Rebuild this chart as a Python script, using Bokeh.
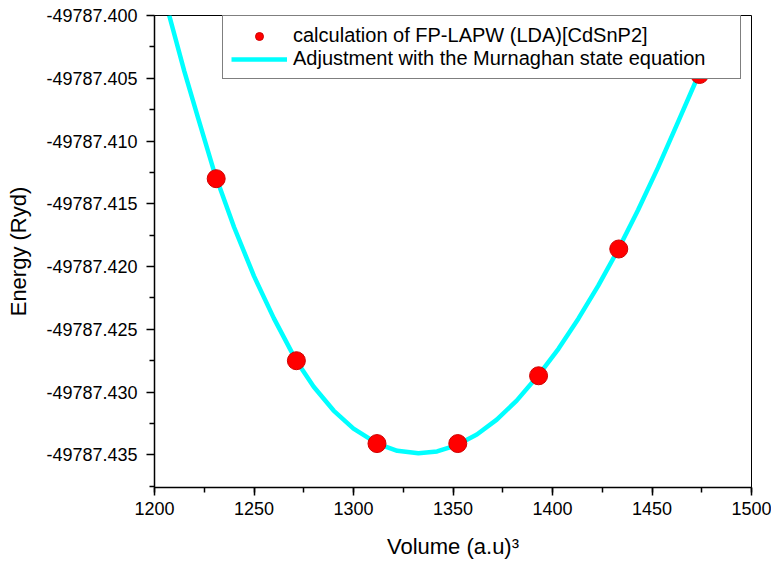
from bokeh.plotting import figure
from bokeh.models import (Range1d, FixedTicker, SingleIntervalTicker, PrintfTickFormatter,
                          Legend, LegendItem)
from bokeh.embed import file_html
from bokeh.resources import INLINE

# ---- data ----
VOLUME = [1231.0, 1271.3, 1311.8, 1352.4, 1393.0, 1433.3, 1473.9]
ENERGY = [-49787.4130, -49787.4275, -49787.4341, -49787.4341, -49787.4287,
          -49787.4186, -49787.4047]

# fitted (Murnaghan) curve
FIT_V = [1207.4, 1215.0, 1222.0, 1230.0, 1240.0, 1250.0, 1260.0, 1271.2, 1280.0,
         1290.0, 1300.0, 1312.0, 1322.0, 1332.6, 1342.0, 1352.0, 1362.0, 1372.0,
         1382.0, 1392.9, 1403.0, 1413.0, 1423.0, 1433.2, 1443.0, 1453.0, 1463.0,
         1473.5, 1485.3]
FIT_E = [-49787.40000, -49787.40445, -49787.40821, -49787.41246, -49787.41687,
         -49787.42076, -49787.42413, -49787.42749, -49787.42957, -49787.43147,
         -49787.43291, -49787.43411, -49787.43468, -49787.43488, -49787.43473,
         -49787.43422, -49787.43338, -49787.43219, -49787.43068, -49787.42866,
         -49787.42655, -49787.42415, -49787.42152, -49787.41859, -49787.41550,
         -49787.41212, -49787.40852, -49787.40470, -49787.40000]

Y_TICKS = [-49787.435, -49787.430, -49787.425, -49787.420, -49787.415,
           -49787.410, -49787.405, -49787.400]
Y_MINOR = [-49787.4375, -49787.4325, -49787.4275, -49787.4225, -49787.4175,
           -49787.4125, -49787.4075, -49787.4025]

SERIES_POINTS = "calculation of FP-LAPW (LDA)[CdSnP2]"
SERIES_FIT = "Adjustment with the Murnaghan state equation"

FONT = "Liberation Sans"

p = figure(width=771, height=569, output_backend="svg", toolbar_location=None,
           x_range=Range1d(1200, 1500), y_range=Range1d(-49787.4376, -49787.400),
           min_border_left=154, min_border_right=20, min_border_top=15,
           min_border_bottom=82, background_fill_color="white",
           border_fill_color="white")

p.xgrid.visible = False
p.ygrid.visible = False
p.outline_line_color = "black"
p.outline_line_width = 1

fit = p.line(FIT_V, FIT_E, line_color="#00FFFF", line_width=4.5, line_join="round")
pts = p.scatter(VOLUME, ENERGY, size=18, fill_color="#FF0000", line_color="#D00000",
                line_width=1)

# axes
p.xaxis.ticker = SingleIntervalTicker(interval=50, num_minor_ticks=2)
p.yaxis.ticker = FixedTicker(ticks=Y_TICKS, minor_ticks=Y_MINOR)
p.yaxis.formatter = PrintfTickFormatter(format="%.3f")

for ax in (p.xaxis[0], p.yaxis[0]):
    ax.axis_line_color = "black"
    ax.axis_line_width = 1.5
    ax.major_tick_line_color = "black"
    ax.major_tick_line_width = 1.5
    ax.minor_tick_line_color = "black"
    ax.minor_tick_line_width = 1.5
    ax.major_tick_out = 8
    ax.major_tick_in = 0
    ax.minor_tick_out = 5
    ax.minor_tick_in = 0
    ax.major_label_text_font = FONT
    ax.major_label_text_font_size = "18px"
    ax.major_label_text_color = "black"
    ax.axis_label_text_font = FONT
    ax.axis_label_text_font_size = "22px"
    ax.axis_label_text_font_style = "normal"
    ax.axis_label_text_color = "black"

p.xaxis.axis_label = "Volume (a.u)³"
p.yaxis.axis_label = "Energy (Ryd)"
p.xaxis.major_label_standoff = 6
p.yaxis.major_label_standoff = 9
p.xaxis.axis_label_standoff = 16
p.yaxis.axis_label_standoff = 12

legend = Legend(items=[LegendItem(label=SERIES_POINTS, renderers=[pts]),
                       LegendItem(label=SERIES_FIT, renderers=[fit])],
                location=(68, 408), padding=8, spacing=-2, glyph_width=56,
                glyph_height=20, label_height=20, label_standoff=6, label_width=439,
                border_line_color="black", border_line_width=1.5,
                background_fill_color="white", background_fill_alpha=1.0,
                label_text_font=FONT, label_text_font_size="20px",
                label_text_color="black", margin=0)
p.add_layout(legend, "center")

open("out.html", "w").write(file_html(p, INLINE))
